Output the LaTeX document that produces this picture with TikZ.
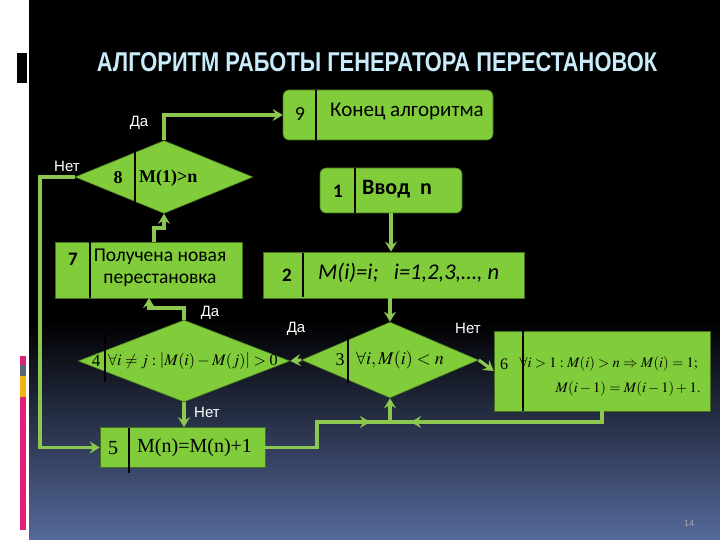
\documentclass[tikz,border=0pt]{standalone}
\usepackage{mathptmx}
\usepackage[no-math]{fontspec}
\setmainfont{Carlito}
\newfontfamily\labfont{Liberation Sans}
\newfontfamily\tnrfont{Liberation Serif}
\newfontfamily\titlefont{Liberation Sans}
\usetikzlibrary{shapes.geometric,arrows.meta}
\definecolor{gfill}{RGB}{128,204,58}
\definecolor{gline}{RGB}{140,200,80}
\definecolor{titlec}{RGB}{200,236,250}
\definecolor{bgbot}{RGB}{85,105,155}
\definecolor{dpink}{RGB}{225,30,120}
\definecolor{dgray}{RGB}{90,100,112}
\definecolor{dyell}{RGB}{240,180,20}
\tikzset{
  box/.style={rectangle, draw=gfill!55!black, line width=0.6pt, fill=gfill, inner sep=0pt},
  rbox/.style={box, rounded corners=6pt},
  dia/.style={diamond, draw=gfill!55!black, line width=0.6pt, fill=gfill, inner sep=0pt},
  conn/.style={draw=gline, line width=3.2pt},
  arr/.style={conn, -{Stealth[length=10pt,width=12pt,inset=3.5pt]}},
  lbl/.style={text=white, font=\labfont\fontsize{15}{15}\selectfont, inner sep=0pt},
  divl/.style={draw=black, line width=2pt},
  txt/.style={inner sep=0pt, text=black}
}
\begin{document}
\begin{tikzpicture}[x=1pt,y=-1pt]
\useasboundingbox (0,0) rectangle (720,540);
% background
\fill[white] (0,0) rectangle (29,540);
\fill[black] (29,0) rectangle (720,321);
\shade[top color=black, bottom color=bgbot] (29,320) rectangle (720,540);
\fill[black] (17,53) rectangle (27,83);
\fill[dpink] (20,356) rectangle (26,365);
\fill[dgray] (20,365) rectangle (26,376);
\fill[dyell] (20,376) rectangle (26,397);
\fill[dpink] (20,397) rectangle (26,530);
% title
\node[text=titlec, inner sep=0pt, anchor=base] (title) at (377,72)
  {\resizebox{560pt}{19pt}{\titlefont\bfseries АЛГОРИТМ РАБОТЫ ГЕНЕРАТОРА ПЕРЕСТАНОВОК}};
\node[text=gray!70, font=\labfont\fontsize{9}{9}\selectfont] (pg) at (689,523) {14};
% nodes
\node[rbox, minimum width=210pt, minimum height=50pt] (n9) at (388,115) {};
\node[rbox, minimum width=142pt, minimum height=45pt] (n1) at (391,190.5) {};
\node[box, minimum width=261pt, minimum height=46pt] (n2) at (393.5,275) {};
\node[dia, minimum width=177pt, minimum height=76pt] (d3) at (390,360) {};
\node[dia, minimum width=212pt, minimum height=82pt] (d4) at (184,361) {};
\node[dia, minimum width=178pt, minimum height=73pt] (d8) at (164,177) {};
\node[box, minimum width=187pt, minimum height=56pt] (n7) at (148.5,270) {};
\node[box, minimum width=165pt, minimum height=40pt] (n5) at (182.5,447.5) {};
\node[box, minimum width=216pt, minimum height=80pt] (n6) at (602,371) {};
% dividers
\draw[divl] (316,90) -- (316,140);
\draw[divl] (355,168) -- (355,213);
\draw[divl] (303,253) -- (303,297);
\draw[divl] (348,335) -- (348,383);
\draw[divl] (105,335) -- (105,382);
\draw[divl] (135,150) -- (135,203);
\draw[divl] (90,242) -- (90,298);
\draw[divl] (129,428) -- (129,473);
\draw[divl] (523,331) -- (523,411);
% texts
\node[txt, font=\fontsize{20}{20}\selectfont] (t9n) at (300,114) {9};
\node[txt, font=\fontsize{21}{21}\selectfont] (t9) at (407,111) {Конец алгоритма};
\node[txt, font=\bfseries\fontsize{19}{19}\selectfont] (t1n) at (338,191) {1};
\node[txt, font=\bfseries\fontsize{22}{22}\selectfont, anchor=west] (t1) at (362,189) {Ввод\ \ n};
\node[txt, font=\bfseries\fontsize{19}{19}\selectfont] (t2n) at (287,275) {2};
\node[txt, font=\itshape\fontsize{22.5}{22.5}\selectfont, anchor=west] (t2) at (318,273) {M(i)=i;\ \ \ i=1,2,3,…, n};
\node[txt, font=\bfseries\fontsize{19}{19}\selectfont] (t7n) at (73,259) {7};
\node[txt, font=\fontsize{19.5}{22}\selectfont, align=center] (t7) at (160,268) {Получена новая\\ перестановка};
\node[txt, font=\tnrfont\bfseries\fontsize{18}{18}\selectfont] (t8n) at (118,178) {8};
\node[txt, font=\tnrfont\bfseries\fontsize{18}{18}\selectfont, anchor=west] (t8) at (139,178) {M(1)>n};
\node[txt, font=\fontsize{18}{18}\selectfont] (t3n) at (340,360) {\tnrfont 3};
\node[txt, font=\fontsize{18}{18}\selectfont, anchor=west] (t3) at (356,360) {$\forall i, M(i)<n$};
\node[txt, font=\fontsize{17}{17}\selectfont] (t4n) at (96,361) {\tnrfont 4};
\node[txt, font=\fontsize{16}{16}\selectfont, anchor=west] (t4) at (108,361) {$\forall i\neq j:\left|M(i)-M(j)\right|>0$};
\node[txt, font=\fontsize{20}{20}\selectfont] (t5n) at (113,448) {\tnrfont 5};
\node[txt, font=\tnrfont\fontsize{20}{20}\selectfont, anchor=west] (t5) at (137,448) {M(n)=M(n)+1};
\node[txt, font=\fontsize{16}{16}\selectfont] (t6n) at (504,364) {\tnrfont 6};
\node[txt, font=\fontsize{14.5}{14.5}\selectfont, anchor=east] (t6a) at (698,364) {$\forall i>1:M(i)>n\Rightarrow M(i)=1;$};
\node[txt, font=\fontsize{14.5}{14.5}\selectfont, anchor=east] (t6b) at (701,389) {$M(i-1)=M(i-1)+1.$};
% connector helper coordinates
\coordinate (J) at (390,422);
% connectors
\draw[arr] (n1.south) -- (n1.south |- n2.north);
\draw[arr] (n2.south -| d3.north) -- (d3.north);
\draw[arr] (d3.west) -- (d4.east);
\draw[arr] (d3.east) -- (n6.west);
\draw[conn] (602,411) -- (602,422) -- (J);
\draw[arr] (602,422) -- (411,422);
\draw[conn] (n5.east) -- (317,447.5) -- (317,422) -- (J);
\draw[arr] (317,422) -- (370,422);
\draw[arr] (J) -- (d3.south);
\draw[arr] (d4.south) -- (d4.south |- n5.north);
\draw[arr] (d4.north) -- (184,308) -- (149,308) -- (149,298);
\draw[arr] (154,242) -- (154,228) -- (164,228) -- (d8.south);
\draw[arr] (d8.north) -- (164,115) -- (n9.west);
\draw[arr] (d8.west) -- (40,177) -- (40,447.5) -- (n5.west);
% labels
\node[lbl] (l1) at (296,329) {Да};
\node[lbl] (l2) at (468,328) {Нет};
\node[lbl] (l3) at (210,313) {Да};
\node[lbl] (l4) at (207,412) {Нет};
\node[lbl] (l5) at (139,123) {Да};
\node[lbl] (l6) at (67,166) {Нет};
\end{tikzpicture}
\end{document}
